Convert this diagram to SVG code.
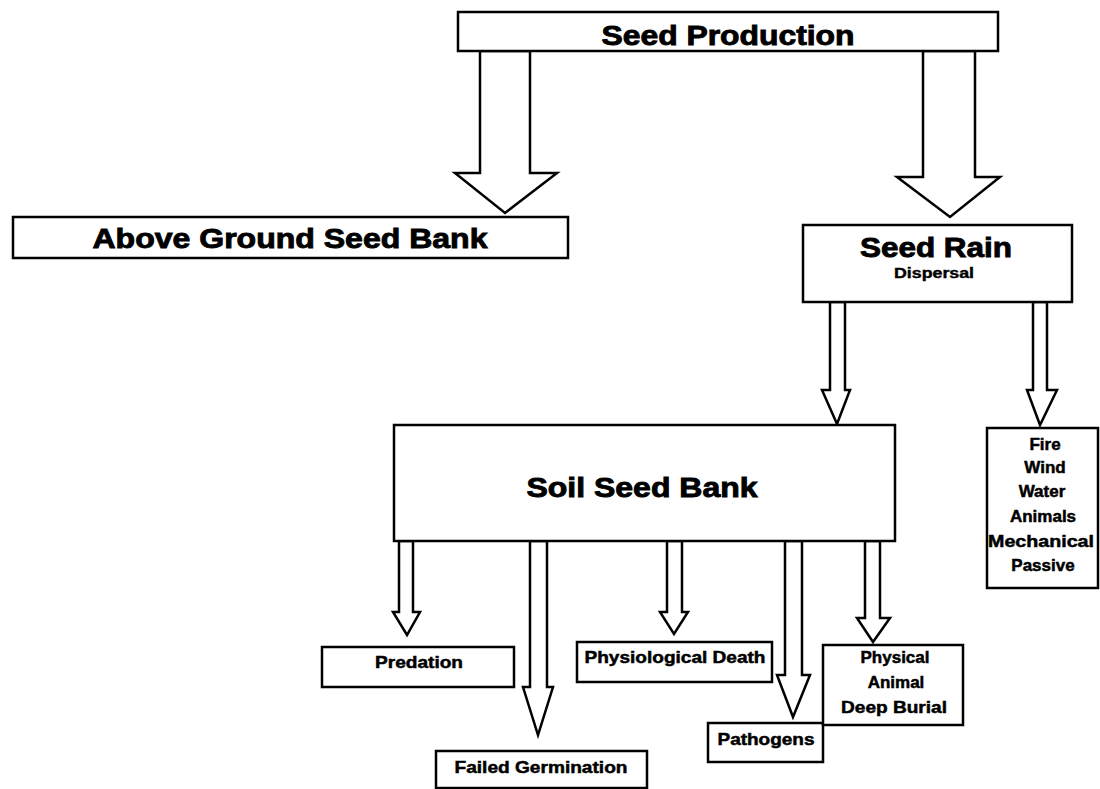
<svg xmlns="http://www.w3.org/2000/svg" width="1100" height="789" viewBox="0 0 1100 789">
<style>
.box{fill:#fff;stroke:#000;stroke-width:2.5}
.arr{fill:#fff;stroke:#000;stroke-width:2.5;stroke-linejoin:miter}
text{font-family:"Liberation Sans",Arial,sans-serif;font-weight:bold;fill:#000;stroke:#000;text-anchor:middle}
.big{font-size:28px;stroke-width:0.9}
.mid{font-size:17px;stroke-width:0.5}
.sm{font-size:14px;stroke-width:0.4}
</style>
<rect width="1100" height="789" fill="#fff"/>
<g id="connectors">
<polygon class="arr" points="480,51 530,51 530,173 557,173 505,213 455,173 480,173"/>
<polygon class="arr" points="923,51 975,51 975,177 1000,177 950,217 897,177 923,177"/>
<polygon class="arr" points="830,302 845,302 845,390 850,390 837,424 822,390 830,390"/>
<polygon class="arr" points="1033,302 1047,302 1047,390 1057,390 1040,425 1027,390 1033,390"/>
<polygon class="arr" points="399,541 413,541 413,612 420,612 407,635 393,612 399,612"/>
<polygon class="arr" points="530,541 547,541 547,687 553,687 538,735 523,687 530,687"/>
<polygon class="arr" points="667,541 682,541 682,612 688,612 674,634 660,612 667,612"/>
<polygon class="arr" points="785,541 802,541 802,675 810,675 793,717 777,675 785,675"/>
<polygon class="arr" points="865,541 880,541 880,618 890,618 873,642 857,618 865,618"/>
</g>
<g id="seed-production">
<rect class="box" x="458" y="12" width="540" height="39"/>
<text class="big" x="728" y="45" textLength="253" lengthAdjust="spacingAndGlyphs">Seed Production</text>
</g>
<g id="above-ground">
<rect class="box" x="13" y="217" width="555" height="41"/>
<text class="big" x="290" y="248" textLength="395" lengthAdjust="spacingAndGlyphs">Above Ground Seed Bank</text>
</g>
<g id="seed-rain">
<rect class="box" x="803" y="225" width="269" height="77"/>
<text class="big" x="936" y="257" textLength="152" lengthAdjust="spacingAndGlyphs">Seed Rain</text>
<text class="sm" x="934" y="278" textLength="80" lengthAdjust="spacingAndGlyphs">Dispersal</text>
</g>
<g id="dispersal-agents">
<rect class="box" x="987" y="428" width="111" height="160"/>
<text class="mid" x="1045" y="450">Fire</text>
<text class="mid" x="1045" y="473">Wind</text>
<text class="mid" x="1042" y="497">Water</text>
<text class="mid" x="1043" y="522">Animals</text>
<text class="mid" x="1041" y="547" textLength="106" lengthAdjust="spacingAndGlyphs">Mechanical</text>
<text class="mid" x="1043" y="571">Passive</text>
</g>
<g id="soil-seed-bank">
<rect class="box" x="394" y="425" width="501" height="116"/>
<text class="big" x="642" y="497" textLength="231" lengthAdjust="spacingAndGlyphs">Soil Seed Bank</text>
</g>
<g id="predation">
<rect class="box" x="322" y="647" width="192" height="40"/>
<text class="mid" x="419" y="668" textLength="88" lengthAdjust="spacingAndGlyphs">Predation</text>
</g>
<g id="failed-germination">
<rect class="box" x="436" y="751" width="211" height="37"/>
<text class="mid" x="541" y="773" textLength="173" lengthAdjust="spacingAndGlyphs">Failed Germination</text>
</g>
<g id="physiological-death">
<rect class="box" x="577" y="642" width="195" height="40"/>
<text class="mid" x="675" y="663" textLength="181" lengthAdjust="spacingAndGlyphs">Physiological Death</text>
</g>
<g id="pathogens">
<rect class="box" x="708" y="723" width="115" height="39"/>
<text class="mid" x="766" y="745" textLength="97" lengthAdjust="spacingAndGlyphs">Pathogens</text>
</g>
<g id="physical">
<rect class="box" x="823" y="645" width="140" height="80"/>
<text class="mid" x="895" y="663">Physical</text>
<text class="mid" x="896" y="688">Animal</text>
<text class="mid" x="894" y="713" textLength="106" lengthAdjust="spacingAndGlyphs">Deep Burial</text>
</g>
</svg>
